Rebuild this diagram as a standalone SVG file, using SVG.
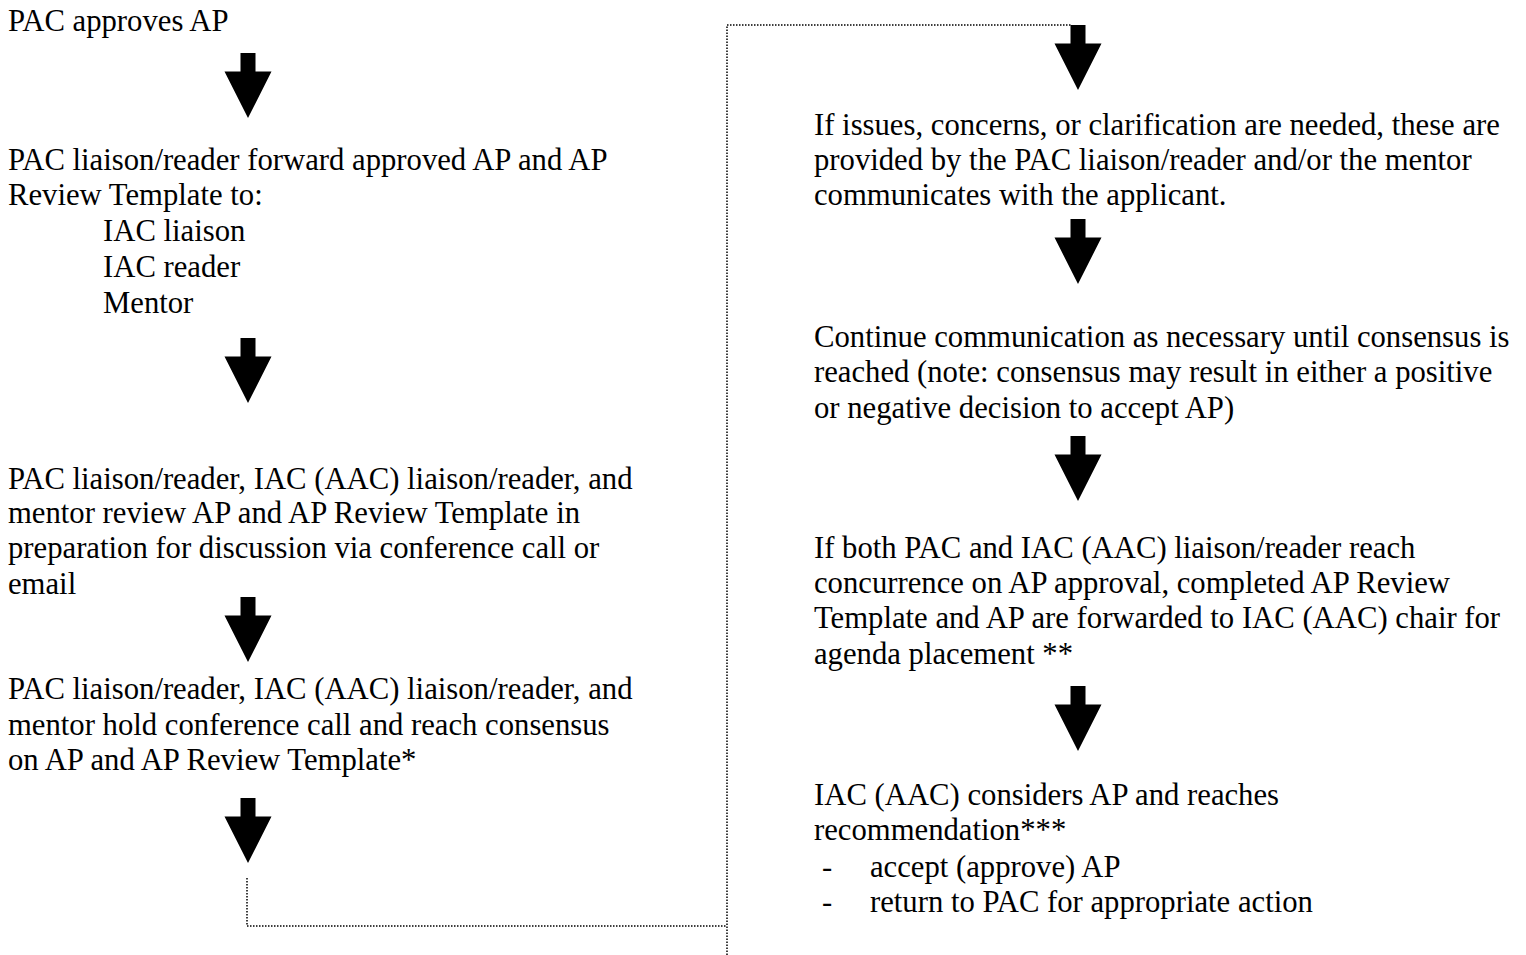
<svg xmlns="http://www.w3.org/2000/svg" width="1526" height="955" viewBox="0 0 1526 955">
<style>
text{font-family:"Liberation Serif","Times New Roman",serif;font-size:30.7px;fill:#000}
.dot{fill:none;stroke:#000;stroke-width:1.5;stroke-dasharray:1.5 1.5}
</style>
<defs>
<path id="arr" d="M-7.5,0 H7.5 V18.5 H23.5 L0,65 L-23.5,18.5 H-7.5 Z" fill="#000"/>
</defs>
<rect width="1526" height="955" fill="#fff"/>
<g id="connectors">
<use href="#arr" x="248" y="53"/>
<use href="#arr" x="248" y="338"/>
<use href="#arr" x="248" y="597"/>
<use href="#arr" x="248" y="798"/>
<use href="#arr" x="1078" y="25"/>
<use href="#arr" x="1078" y="219"/>
<use href="#arr" x="1078" y="436"/>
<use href="#arr" x="1078" y="686"/>
<path class="dot" d="M247,878 V926 H727"/>
<path class="dot" d="M727,955 V25 H1071"/>
</g>
<g id="n1"><text x="8" y="31">PAC approves AP</text></g>
<g id="n2">
<text x="8" y="170">PAC liaison/reader forward approved AP and AP</text>
<text x="8" y="205">Review Template to:</text>
<text x="103" y="241">IAC liaison</text>
<text x="103" y="277">IAC reader</text>
<text x="103" y="313">Mentor</text>
</g>
<g id="n3">
<text x="8" y="489">PAC liaison/reader, IAC (AAC) liaison/reader, and</text>
<text x="8" y="523">mentor review AP and AP Review Template in</text>
<text x="8" y="558">preparation for discussion via conference call or</text>
<text x="8" y="594">email</text>
</g>
<g id="n4">
<text x="8" y="699">PAC liaison/reader, IAC (AAC) liaison/reader, and</text>
<text x="8" y="735">mentor hold conference call and reach consensus</text>
<text x="8" y="770">on AP and AP Review Template*</text>
</g>
<g id="n5">
<text x="814" y="135">If issues, concerns, or clarification are needed, these are</text>
<text x="814" y="170">provided by the PAC liaison/reader and/or the mentor</text>
<text x="814" y="205">communicates with the applicant.</text>
</g>
<g id="n6">
<text x="814" y="347">Continue communication as necessary until consensus is</text>
<text x="814" y="382">reached (note: consensus may result in either a positive</text>
<text x="814" y="418">or negative decision to accept AP)</text>
</g>
<g id="n7">
<text x="814" y="558">If both PAC and IAC (AAC) liaison/reader reach</text>
<text x="814" y="593">concurrence on AP approval, completed AP Review</text>
<text x="814" y="628">Template and AP are forwarded to IAC (AAC) chair for</text>
<text x="814" y="664">agenda placement **</text>
</g>
<g id="n8">
<text x="814" y="805">IAC (AAC) considers AP and reaches</text>
<text x="814" y="840">recommendation***</text>
<text x="822" y="877">-</text>
<text x="870" y="877">accept (approve) AP</text>
<text x="822" y="912">-</text>
<text x="870" y="912">return to PAC for appropriate action</text>
</g>
</svg>
